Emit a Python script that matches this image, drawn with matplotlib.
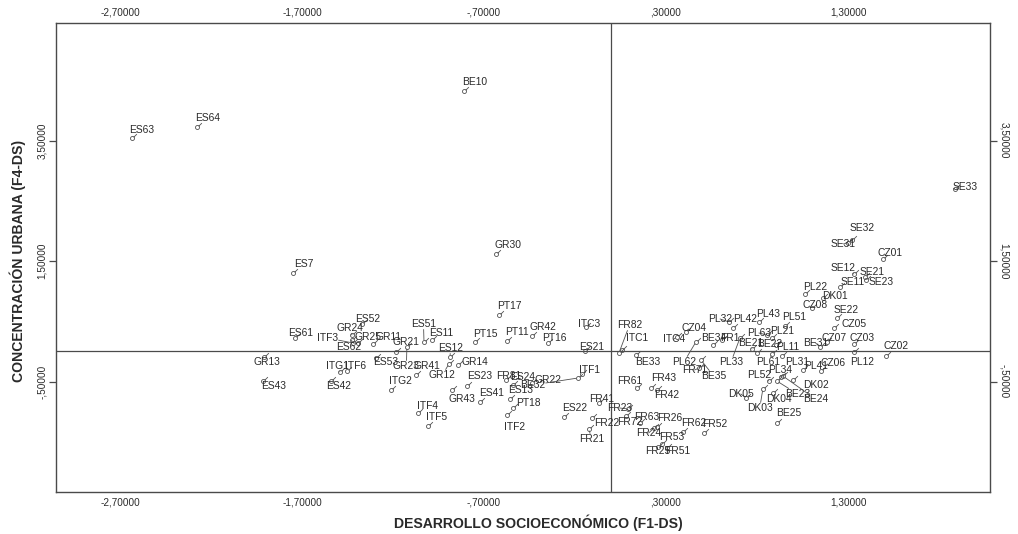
import numpy as np
import matplotlib
matplotlib.use("Agg")
import matplotlib.pyplot as plt
from matplotlib.path import Path
from matplotlib.markers import MarkerStyle

# Regional factor scores: F1 (socio-economic development) vs F4 (urban concentration)
regions = [
    "ES63", "ES64", "BE10", "GR30", "ES7", "PT17", "ES61", "GR24", "ES52", "ITF3",
    "GR25", "ES62", "GR11", "GR21", "ES51", "ES11", "ES12", "PT15", "PT11", "GR42",
    "PT16", "ITC3", "ES21", "GR13", "ES43", "ITG1", "ITF6", "ES53", "GR23", "GR41",
    "GR12", "GR14", "ES42", "ITG2", "ES23", "GR43", "ES41", "ITF4", "ITF5", "FR81",
    "ES24", "GR22", "ES13", "PT18", "ITF2", "ITF1", "BE32", "ES22", "FR41", "FR22",
    "FR21", "FR82", "ITC1", "ITC4", "CZ04", "PL62", "BE33", "FR71", "BE35", "BE34",
    "FR1", "PL32", "PL42", "PL33", "BE21", "FR61", "FR43", "FR42", "FR23", "FR72",
    "FR63", "FR26", "FR24", "FR62", "FR52", "FR53", "FR25", "FR51", "CZ08", "PL43",
    "PL51", "PL63", "PL21", "BE22", "PL11", "BE31", "PL61", "PL31", "PL41", "CZ06",
    "PL34", "PL52", "DK02", "BE23", "BE24", "DK05", "DK04", "DK03", "BE25", "SE33",
    "SE32", "SE31", "CZ01", "SE12", "SE21", "SE11", "SE23", "PL22", "DK01", "SE22",
    "CZ05", "CZ07", "CZ03", "PL12", "CZ02",
]
f1_ds = [
    -2.635, -2.277, -0.810, -0.634, -1.750, -0.618, -1.739, -1.426, -1.371, -1.420,
    -1.393, -1.426, -1.310, -1.184, -1.030, -0.986, -0.887, -0.750, -0.574, -0.437,
    -0.349, -0.140, -0.146, -1.909, -1.915, -1.492, -1.453, -1.294, -1.124, -1.074,
    -0.893, -0.843, -1.541, -1.212, -0.794, -0.876, -0.723, -1.063, -1.008, -0.580,
    -0.541, -0.437, -0.558, -0.541, -0.574, -0.162, -0.184, -0.261, -0.069, -0.107,
    -0.124, 0.041, 0.058, 0.360, 0.409, 0.464, 0.135, 0.481, 0.492, 0.558,
    0.607, 0.646, 0.668, 0.706, 0.772, 0.140, 0.217, 0.250, 0.091, 0.080,
    0.157, 0.250, 0.234, 0.393, 0.508, 0.277, 0.255, 0.305, 1.101, 0.810,
    0.953, 0.854, 0.882, 0.799, 0.904, 1.146, 0.882, 0.936, 1.052, 1.151,
    0.931, 0.865, 0.997, 0.909, 0.942, 0.739, 0.887, 0.832, 0.909, 1.887,
    1.321, 1.299, 1.492, 1.332, 1.393, 1.255, 1.398, 1.063, 1.162, 1.239,
    1.223, 1.184, 1.332, 1.332, 1.508,
]
f4_ds = [
    3.544, 3.726, 4.324, 1.618, 1.303, 0.606, 0.224, 0.274, 0.456, 0.141,
    0.141, 0.191, 0.124, -0.008, 0.158, 0.191, -0.091, 0.158, 0.174, 0.257,
    0.141, 0.407, 0.008, -0.091, -0.490, -0.340, -0.324, -0.108, 0.075, -0.390,
    -0.207, -0.224, -0.490, -0.639, -0.573, -0.639, -0.838, -1.021, -1.237, -0.473,
    -0.556, -0.523, -0.788, -0.938, -1.054, -0.373, -0.440, -1.087, -0.855, -1.104,
    -1.286, -0.025, 0.025, 0.241, 0.324, 0.158, -0.058, -0.274, -0.141, 0.108,
    0.191, 0.490, 0.390, 0.224, 0.041, -0.606, -0.606, -0.639, -0.954, -1.071,
    -1.187, -1.253, -1.270, -1.336, -1.353, -1.535, -1.585, -1.602, 0.722, 0.490,
    0.423, 0.274, 0.224, -0.025, 0.108, 0.075, -0.041, -0.075, -0.307, -0.324,
    -0.423, -0.490, -0.473, -0.490, -0.407, -0.772, -0.689, -0.622, -1.187, 2.697,
    1.851, 1.801, 1.535, 1.286, 1.237, 1.071, 1.187, 0.954, 0.888, 0.556,
    0.390, 0.158, 0.124, -0.008, -0.075,
]

x_ticks = [-2.7, -1.7, -0.7, 0.3, 1.3]
x_tick_labels = ["-2,70000", "-1,70000", "-,70000", ",30000", "1,30000"]
y_ticks = [-0.5, 1.5, 3.5]
y_tick_labels = ["-,50000", "1,50000", "3,50000"]

# label placement (pixels from the point: right, up); default sits just above
DEFAULT_OFFSET = (-2, 9)
label_offsets = {
    "ES63": (-3, 8), "ES7": (1, 9), "ES61": (-7, 5), "GR24": (-15, 7), "ES52": (-7, 5),
    "ITF3": (-36, 5), "GR25": (-3, 6), "ES62": (-16, -7), "GR11": (2, 7), "GR21": (-3, 10),
    "ES51": (-13, 18), "ES11": (-3, 7), "ES12": (-12, 9), "PT15": (-2, 8), "PT16": (-6, 5),
    "ITC3": (-8, 3), "ES21": (-6, 4), "GR13": (-11, -5), "ES43": (-2, -5), "ITG1": (-14, 6),
    "ITF6": (-2, 5), "ES53": (-3, -4), "GR23": (-14, -19), "GR12": (-20, -11), "GR14": (3, 3),
    "ES42": (-5, -5), "ES23": (0, 10), "GR43": (-4, -9), "ES41": (-1, 9), "ITF4": (-1, 7),
    "FR81": (-10, 4), "ES24": (-3, 8), "GR22": (3, 3), "PT18": (3, 5), "ITF2": (-3, -12),
    "ITF1": (-3, 4), "BE32": (-58, -7), "FR41": (-10, 4), "FR22": (2, -5), "FR21": (-10, -10),
    "FR82": (-2, 28), "ITC1": (4, 12), "ITC4": (-14, -2), "CZ04": (-4, 4), "PL62": (-24, -20),
    "BE33": (-1, -7), "FR71": (-17, -2), "BE35": (0, -16), "BE34": (-12, 7), "FR1": (-2, 2),
    "PL32": (-21, 3), "PL42": (0, 9), "PL33": (-21, -24), "BE21": (-14, 6), "FR61": (-20, 7),
    "FR43": (0, 10), "FR42": (-3, -5), "FR23": (-21, 1), "FR72": (-9, -6), "FR63": (-6, 6),
    "FR26": (0, 9), "FR24": (-18, -5), "FR53": (-3, 7), "FR25": (-13, -4), "FR51": (-2, -3),
    "CZ08": (-9, 3), "PL43": (-3, 8), "PL51": (-3, 9), "PL63": (-20, 2), "PL21": (-2, 7),
    "BE22": (0, 9), "PL11": (0, -2), "BE31": (-17, 4), "PL61": (-16, -8), "PL31": (3, -6),
    "PL41": (1, 4), "CZ06": (0, 8), "PL34": (-13, 7), "PL52": (-22, 6), "DK02": (10, -5),
    "BE23": (8, -13), "BE24": (20, -23), "DK05": (-18, 4), "DK04": (-7, -6), "DK03": (-16, -19),
    "BE25": (-1, 10), "SE33": (-2, 2), "SE32": (-2, 12), "SE31": (-17, -1), "CZ01": (-5, 6),
    "SE12": (-23, 6), "SE21": (-5, 5), "SE11": (1, 5), "SE23": (3, -2), "PL22": (-2, 7),
    "DK01": (-1, 2), "SE22": (-3, 8), "CZ05": (7, 4), "CZ07": (-5, 4), "CZ03": (-4, 6),
    "PL12": (-4, -10), "CZ02": (-2, 10),
}

# small open circle with a short tick towards the label
circle = Path.circle((0, 0), 1.0)
tick = Path([(0.7, 0.7), (2.2, 2.2)], [Path.MOVETO, Path.LINETO])
point_marker = MarkerStyle(Path.make_compound_path(circle, tick))

narrow = ["Liberation Sans Narrow", "Liberation Sans", "DejaVu Sans"]
ink = "#2a2a2a"
frame = "#4a4a4a"

fig = plt.figure(figsize=(10.18, 5.34), dpi=100)
ax = fig.add_axes([56 / 1018, 42 / 534, 934 / 1018, 469 / 534])

ax.set_xlim(-3.052, 2.080)
ax.set_ylim(-2.332, 5.452)

ax.axvline(0, color=frame, lw=0.9, zorder=1)
ax.axhline(0, color=frame, lw=0.9, zorder=1)

ax.plot(f1_ds, f4_ds, linestyle="none", marker=point_marker, markersize=6.3,
        markerfacecolor="none", markeredgecolor="#505050", markeredgewidth=0.6, zorder=3)

for name, x, y in zip(regions, f1_ds, f4_ds):
    dx, dy = label_offsets.get(name, DEFAULT_OFFSET)
    arrow = None
    if np.hypot(dx, dy) > 14:
        arrow = dict(arrowstyle="-", color="#505050", lw=0.6, shrinkA=0, shrinkB=1.5)
    ax.annotate(name, xy=(x, y), xytext=(dx, dy), textcoords="offset pixels",
                ha="left", va="center", fontsize=7.4, family=narrow, color=ink,
                arrowprops=arrow,
                bbox=dict(boxstyle="square,pad=0.05", fc="none", ec="none"),
                zorder=4)

ax.set_xticks(x_ticks)
ax.set_xticklabels(x_tick_labels)
ax.set_yticks(y_ticks)
ax.set_yticklabels(y_tick_labels)

ax.tick_params(axis="x", length=0, pad=4, top=True, labeltop=True,
               labelsize=7.2, colors=ink)
ax.tick_params(axis="y", length=5, width=0.9, pad=1.5, right=True, labelright=True,
               labelsize=7.2, colors=ink, direction="out")
ax.tick_params(axis="y", color=frame)
for tk in ax.xaxis.get_major_ticks() + ax.yaxis.get_major_ticks():
    tk.label1.set_family(narrow)
    tk.label2.set_family(narrow)
for tk in ax.yaxis.get_major_ticks():
    tk.label1.set_rotation(90)
    tk.label1.set_va("center")
    tk.label2.set_rotation(-90)
    tk.label2.set_va("center")

for side in ax.spines.values():
    side.set_color(frame)
    side.set_linewidth(1.0)

fig.text(538 / 1018, 11 / 534, "DESARROLLO SOCIOECONÓMICO (F1-DS)",
         ha="center", va="center", fontsize=10.1, fontweight="bold",
         family=["Liberation Sans", "DejaVu Sans"], color=ink)
fig.text(18 / 1018, 273 / 534, "CONCENTRACIÓN URBANA (F4-DS)",
         ha="center", va="center", rotation=90, fontsize=10.1, fontweight="bold",
         family=["Liberation Sans", "DejaVu Sans"], color=ink)

fig.savefig("out.png", dpi=100, facecolor="white")
